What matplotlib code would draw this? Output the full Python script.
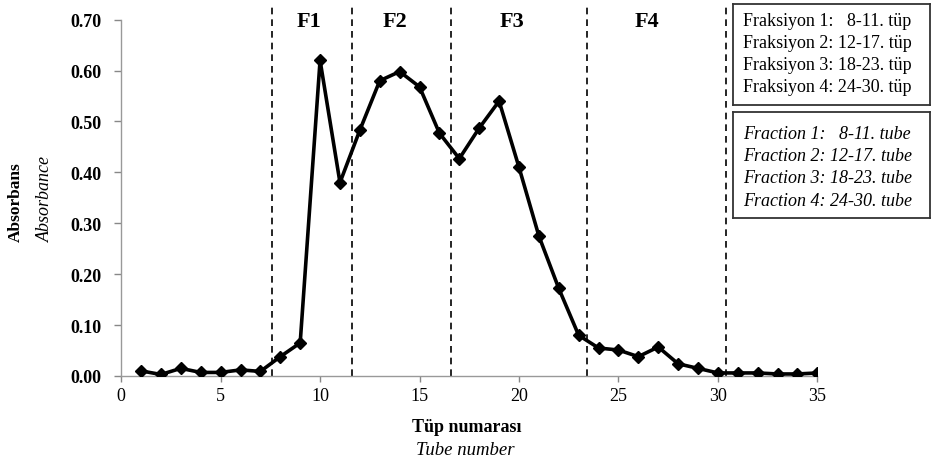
import matplotlib.pyplot as plt

# Tube numbers and measured absorbance
tubes = list(range(1, 36))
absorbance = [0.010, 0.003, 0.015, 0.007, 0.007, 0.012, 0.009, 0.038, 0.065, 0.620,
              0.380, 0.483, 0.580, 0.598, 0.568, 0.477, 0.427, 0.487, 0.540, 0.410,
              0.275, 0.172, 0.080, 0.055, 0.051, 0.038, 0.057, 0.024, 0.015, 0.006,
              0.006, 0.006, 0.004, 0.004, 0.006]

# Fraction boundaries and labels
boundaries = [7.58, 11.6, 16.6, 23.4, 30.4]
fraction_labels = ['F1', 'F2', 'F3', 'F4']
fraction_label_x = [9.45, 13.78, 19.66, 26.45]

legend_tr = ['Fraksiyon 1:   8-11. tüp', 'Fraksiyon 2: 12-17. tüp',
             'Fraksiyon 3: 18-23. tüp', 'Fraksiyon 4: 24-30. tüp']
legend_en = ['Fraction 1:   8-11. tube', 'Fraction 2: 12-17. tube',
             'Fraction 3: 18-23. tube', 'Fraction 4: 24-30. tube']

yticks = [0.0, 0.1, 0.2, 0.3, 0.4, 0.5, 0.6, 0.7]
xticks = [0, 5, 10, 15, 20, 25, 30, 35]

plt.rcParams['font.family'] = ['Liberation Serif', 'DejaVu Serif']

fig = plt.figure(figsize=(9.32, 4.64), dpi=100)
ax = fig.add_axes([0.13, 0.1875, 0.747, 0.768])

ax.plot(tubes, absorbance, color='black', lw=2.6, marker='D', ms=6.5,
        markerfacecolor='black', markeredgecolor='black', zorder=3)

ax.set_xlim(0, 35)
ax.set_ylim(0, 0.70)
ax.set_xticks(xticks)
ax.set_yticks(yticks)
ax.set_yticklabels([f'{v:.2f}' for v in yticks], fontweight='bold', fontsize=13)
ax.set_xticklabels([str(v) for v in xticks], fontsize=13)
ax.tick_params(axis='y', colors='#888888', length=5, width=1, labelcolor='black', pad=9)
ax.tick_params(axis='x', colors='#888888', length=4, width=1, labelcolor='black', pad=4)

for s in ['top', 'right']:
    ax.spines[s].set_visible(False)
for s in ['left', 'bottom']:
    ax.spines[s].set_color('#999999')
    ax.spines[s].set_linewidth(1)

# dashed fraction separators reaching above the plot area
for b in boundaries:
    ax.vlines(b, 0, 0.732, colors='black', linestyles=(0, (4, 3)), lw=1.2,
              clip_on=False, zorder=2)

for xc, lab in zip(fraction_label_x, fraction_labels):
    ax.text(xc, 0.697, lab, ha='center', va='center', fontsize=16,
            fontweight='bold')

# axis titles (two languages)
fig.text(0.017, 0.565, 'Absorbans', rotation=90, ha='center', va='center',
         fontsize=12.5, fontweight='bold')
fig.text(0.049, 0.572, 'Absorbance', rotation=90, ha='center', va='center',
         fontsize=13, style='italic')
fig.text(0.501, 0.079, 'Tüp numarası', ha='center', va='center',
         fontsize=13, fontweight='bold')
fig.text(0.499, 0.030, 'Tube number', ha='center', va='center',
         fontsize=13.5, style='italic')

# legend boxes
box1 = fig.add_axes([0.7865, 0.7716, 0.2114, 0.2177])
box2 = fig.add_axes([0.7865, 0.528, 0.2114, 0.228])
for bx, lines, st, ys in [(box1, legend_tr, 'normal', [0.84, 0.62, 0.40, 0.18]),
                          (box2, legend_en, 'italic', [0.80, 0.59, 0.38, 0.17])]:
    bx.set_xticks([])
    bx.set_yticks([])
    for s in bx.spines.values():
        s.set_linewidth(1.3)
        s.set_color('#333333')
    for t, yy in zip(lines, ys):
        bx.text(0.05, yy, t, transform=bx.transAxes, ha='left',
                va='center', fontsize=13, style=st)

fig.savefig('out.png', dpi=100)
